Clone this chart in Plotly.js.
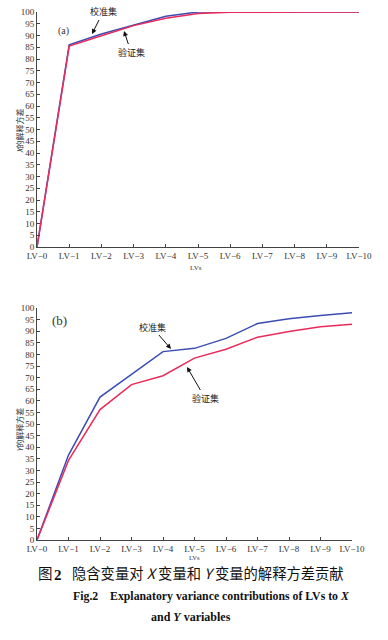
<!DOCTYPE html>
<html><head><meta charset="utf-8">
<script src="https://cdn.plot.ly/plotly-3.0.1.min.js"></script>
<style>html,body{margin:0;padding:0;background:#fff}#chart{width:388px;height:640px}</style>
</head><body><div id="chart"></div>
<script>
const categories = ['LV−0','LV−1','LV−2','LV−3','LV−4','LV−5','LV−6','LV−7','LV−8','LV−9','LV−10'];
// Panel (a): explained variance of X
const xCalibration = [0, 86, 90.6, 94.5, 98.2, 100, 100, 100, 100, 100, 100];
const xValidation  = [0, 85.5, 89.9, 94.2, 97.3, 99.4, 99.9, 100, 100, 100, 100];
// Panel (b): explained variance of Y
const yCalibration = [0, 36.6, 61.6, 71.3, 81.2, 82.6, 86.9, 93.3, 95.4, 96.8, 97.9];
const yValidation  = [0, 34.3, 56.2, 67.0, 70.8, 78.4, 82.2, 87.4, 89.9, 91.9, 93.0];
const nameCal = '校准集', nameVal = '验证集';

const W = 388, H = 640;
const px = v => v / W, py = v => 1 - v / H;
const BLUE = '#3a4db3', RED = '#ea2a5c';
const serif = 'Liberation Serif, DejaVu Serif, serif';
const cjk = 'Noto Sans CJK SC, sans-serif';

const traces = [
  {x: categories, y: xCalibration, xaxis: 'x', yaxis: 'y', mode: 'lines', name: nameCal, line: {color: BLUE, width: 1.5}},
  {x: categories, y: xValidation,  xaxis: 'x', yaxis: 'y', mode: 'lines', name: nameVal, line: {color: RED, width: 1.5}},
  {x: categories, y: yCalibration, xaxis: 'x2', yaxis: 'y2', mode: 'lines', name: nameCal, line: {color: BLUE, width: 1.5}},
  {x: categories, y: yValidation,  xaxis: 'x2', yaxis: 'y2', mode: 'lines', name: nameVal, line: {color: RED, width: 1.5}}
];

const xCommon = {type: 'category', range: [0, 10], showgrid: false, zeroline: false, showline: true,
  linecolor: '#444', linewidth: 1, ticks: 'inside', ticklen: 3, tickcolor: '#444',
  tickfont: {family: serif, size: 9, color: '#333'}, fixedrange: true};
const yCommon = {range: [0, 100], dtick: 5, tick0: 0, showgrid: false, zeroline: false, showline: true,
  linecolor: '#444', linewidth: 1, ticks: 'inside', ticklen: 3, tickcolor: '#444',
  tickfont: {family: serif, size: 9, color: '#333'}, fixedrange: true};

const arrow = {showarrow: true, arrowhead: 2, arrowsize: 1, arrowwidth: 1, arrowcolor: '#111',
  xref: 'paper', yref: 'paper', axref: 'pixel', ayref: 'pixel', font: {family: cjk, size: 9, color: '#222'}};
const txt = (text, x, y, font, extra) => Object.assign({text, x: px(x), y: py(y), xref: 'paper', yref: 'paper', showarrow: false, font}, extra || {});

const layout = {
  width: W, height: H, margin: {l: 0, r: 0, t: 0, b: 0},
  paper_bgcolor: '#fff', plot_bgcolor: '#fff', showlegend: false,
  xaxis: Object.assign({}, xCommon, {domain: [px(37), px(359)], anchor: 'y'}),
  yaxis: Object.assign({}, yCommon, {domain: [py(247), py(12)], anchor: 'x'}),
  xaxis2: Object.assign({}, xCommon, {domain: [px(37), px(352)], anchor: 'y2'}),
  yaxis2: Object.assign({}, yCommon, {domain: [py(540), py(308)], anchor: 'x2'}),
  annotations: [
    txt('(a)', 56, 23, {family: serif, size: 10, color: '#333'}),
    Object.assign({}, arrow, {text: nameCal, x: px(92), y: py(34), ax: 11, ay: -22}),
    Object.assign({}, arrow, {text: nameVal, x: px(124), y: py(31), ax: 7, ay: 21}),
    txt('(b)', 50, 320, {family: serif, size: 13, color: '#333'}),
    Object.assign({}, arrow, {text: nameCal, x: px(171), y: py(349), ax: -19, ay: -22}),
    Object.assign({}, arrow, {text: nameVal, x: px(187), y: py(367), ax: 18, ay: 31}),
    txt('<i>X</i>的解释方差', 19, 131, {family: cjk, size: 8, color: '#333'}, {textangle: -90, xanchor: 'center', yanchor: 'middle'}),
    txt('<i>Y</i>的解释方差', 19, 430, {family: cjk, size: 8, color: '#333'}, {textangle: -90, xanchor: 'center', yanchor: 'middle'}),
    txt('LVs', 196, 268, {family: serif, size: 7, color: '#333'}, {borderpad: 0}),
    txt('LVs', 194, 562, {family: serif, size: 6.5, color: '#333'}, {borderpad: 0}),
    txt('图', 37, 584, {family: cjk, size: 14.5, color: '#111'}, {borderpad: 0}),
    txt('<b>2</b>', 53, 584, {family: serif, size: 15, color: '#111'}, {borderpad: 0}),
    txt('隐含变量对 <i>X</i> 变量和 <i>Y</i> 变量的解释方差贡献', 71, 584, {family: cjk, size: 14.3, color: '#111'}, {xanchor: 'left', borderpad: 0}),
    txt('<b>Fig.2&nbsp;&nbsp;&nbsp;&nbsp;Explanatory variance contributions of LVs to <i>X</i></b>', 212, 605, {family: serif, size: 11.8, color: '#111'}),
    txt('<b>and <i>Y</i> variables</b>', 191, 626, {family: serif, size: 12, color: '#111'})
  ]
};
Plotly.newPlot('chart', traces, layout, {staticPlot: true, displayModeBar: false});
</script></body></html>
